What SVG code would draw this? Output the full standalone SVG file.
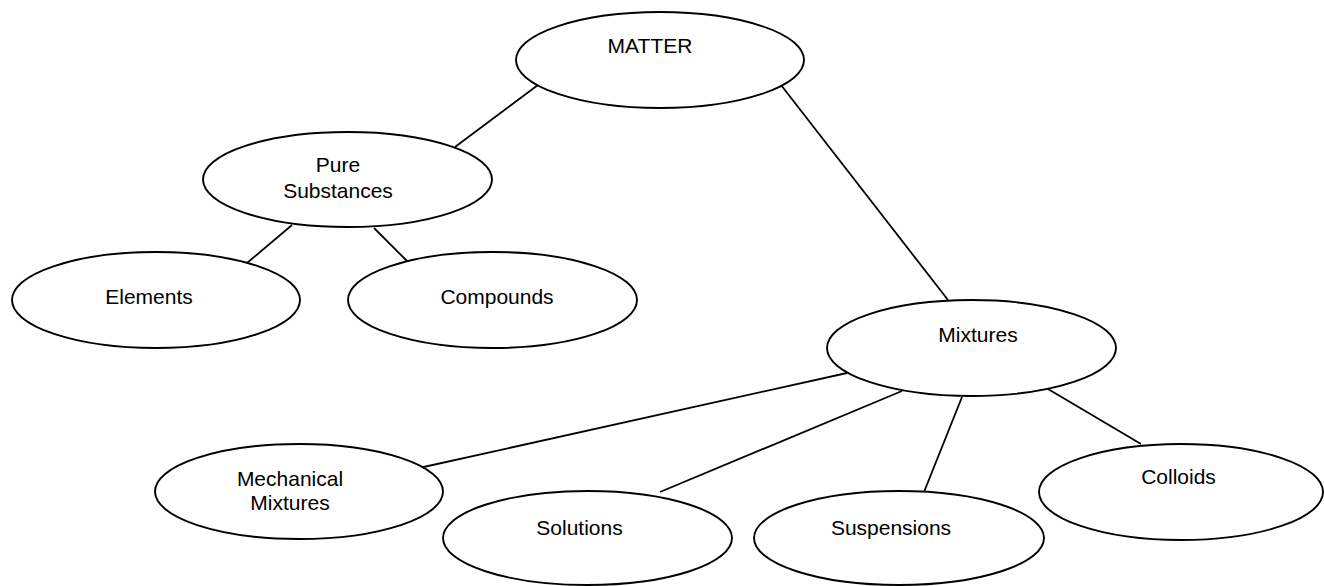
<svg xmlns="http://www.w3.org/2000/svg" width="1324" height="586" viewBox="0 0 1324 586">
<style>
.n{fill:#fff;stroke:#000;stroke-width:1.9}
.t{font-family:"Liberation Sans",Arial,sans-serif;font-size:21px;fill:#000;text-anchor:middle}
.c line{stroke:#000;stroke-width:1.8}
</style>
<rect width="1324" height="586" fill="#fff"/>
<g class="c" id="connectors">
<line x1="538" y1="85" x2="455" y2="147"/>
<line x1="781" y1="85" x2="948" y2="300"/>
<line x1="292" y1="225" x2="247" y2="263"/>
<line x1="374" y1="228" x2="407" y2="261"/>
<line x1="847" y1="373" x2="419" y2="468"/>
<line x1="902" y1="391" x2="660" y2="492"/>
<line x1="962" y1="397" x2="924" y2="492"/>
<line x1="1048" y1="389" x2="1141" y2="444"/>
</g>
<g id="matter"><ellipse class="n" cx="660" cy="60" rx="144" ry="48"/><text class="t" x="650" y="53">MATTER</text></g>
<g id="pure"><ellipse class="n" cx="347.5" cy="179.5" rx="144.5" ry="47.5"/><text class="t" x="338" y="172">Pure</text><text class="t" x="338" y="198">Substances</text></g>
<g id="elements"><ellipse class="n" cx="156" cy="300" rx="144" ry="48"/><text class="t" x="149" y="304">Elements</text></g>
<g id="compounds"><ellipse class="n" cx="492.5" cy="300" rx="144.5" ry="48"/><text class="t" x="497" y="304">Compounds</text></g>
<g id="mixtures"><ellipse class="n" cx="971.5" cy="348" rx="144.5" ry="48"/><text class="t" x="978" y="342">Mixtures</text></g>
<g id="mechanical"><ellipse class="n" cx="299" cy="491.5" rx="144" ry="47.5"/><text class="t" x="290" y="486">Mechanical</text><text class="t" x="290" y="510">Mixtures</text></g>
<g id="solutions"><ellipse class="n" cx="587.5" cy="538" rx="144.5" ry="47"/><text class="t" x="579.5" y="535">Solutions</text></g>
<g id="suspensions"><ellipse class="n" cx="899" cy="538" rx="145" ry="47"/><text class="t" x="891" y="535">Suspensions</text></g>
<g id="colloids"><ellipse class="n" cx="1181" cy="492" rx="142" ry="48"/><text class="t" x="1178.5" y="484">Colloids</text></g>
</svg>
